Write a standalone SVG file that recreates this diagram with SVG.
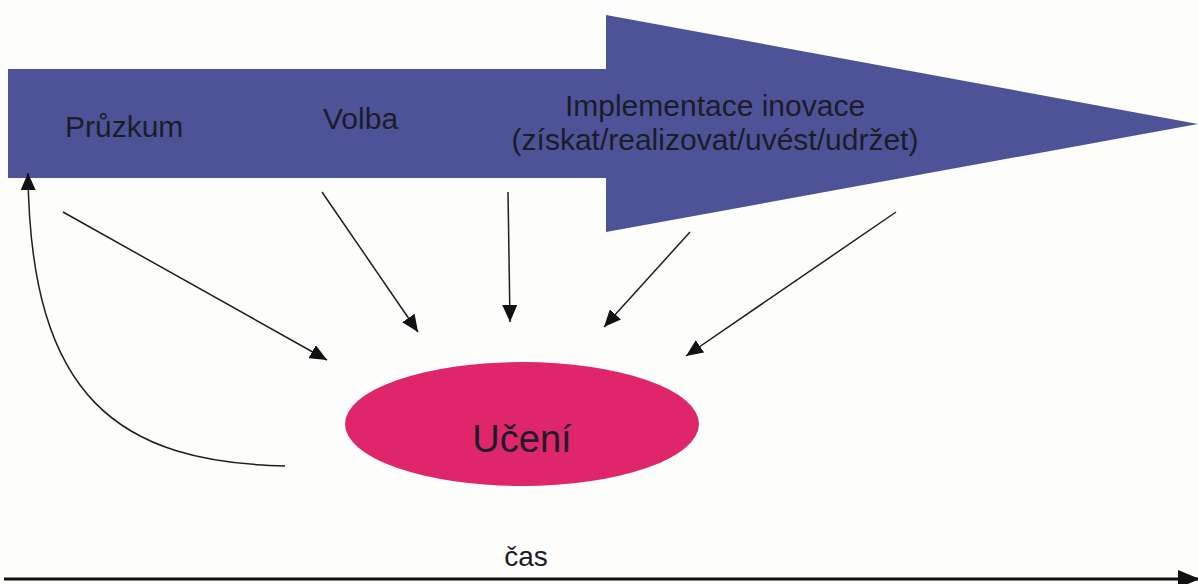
<svg xmlns="http://www.w3.org/2000/svg" width="1198" height="584" viewBox="0 0 1198 584">
<style>
.lbl{font-family:"Liberation Sans",Arial,sans-serif;fill:#1c1c28;}
.con{fill:none;stroke:#1e1e1e;stroke-width:1.5;}
</style>
<defs>
<marker id="ah" markerUnits="userSpaceOnUse" markerWidth="17" markerHeight="15" viewBox="0 0 17 15" refX="17" refY="7.5" orient="auto">
<path d="M0,0 L17,7.5 L0,15 z" fill="#111"/>
</marker>
<marker id="ahT" markerUnits="userSpaceOnUse" markerWidth="22" markerHeight="18" viewBox="0 0 22 18" refX="22" refY="9" orient="auto">
<path d="M0,0 L22,9 L0,18 z" fill="#111"/>
</marker>
</defs>
<rect width="1198" height="584" fill="#fdfdfb"/>
<g id="process-arrow">
<polygon points="8,69 606,69 606,15 1198,124 606,232 606,178 8,178" fill="#4e5398"/>
<text class="lbl" x="65" y="137" font-size="30">Průzkum</text>
<text class="lbl" x="323" y="129" font-size="30">Volba</text>
<text class="lbl" x="715" y="116" font-size="30" text-anchor="middle">Implementace inovace</text>
<text class="lbl" x="715" y="150" font-size="30" text-anchor="middle">(získat/realizovat/uvést/udržet)</text>
</g>
<g id="uceni">
<ellipse cx="522" cy="424" rx="177" ry="62" fill="#e0266a"/>
<text class="lbl" x="522" y="452" font-size="38" text-anchor="middle">Učení</text>
</g>
<g id="time-axis">
<text class="lbl" x="526" y="566" font-size="28" text-anchor="middle">čas</text>
</g>
<g id="connectors">
<line class="con" x1="63" y1="212" x2="327" y2="360" marker-end="url(#ah)"/>
<line class="con" x1="322" y1="192" x2="418" y2="332" marker-end="url(#ah)"/>
<line class="con" x1="508" y1="192" x2="510" y2="322" marker-end="url(#ah)"/>
<line class="con" x1="690" y1="232" x2="604" y2="327" marker-end="url(#ah)"/>
<line class="con" x1="896" y1="212" x2="686" y2="356" marker-end="url(#ah)"/>
<path class="con" d="M285,466 C120,462 30,400 28,173" marker-end="url(#ah)"/>
<line x1="4" y1="579" x2="1200" y2="579" stroke="#111" stroke-width="3" marker-end="url(#ahT)"/>
</g>
</svg>
